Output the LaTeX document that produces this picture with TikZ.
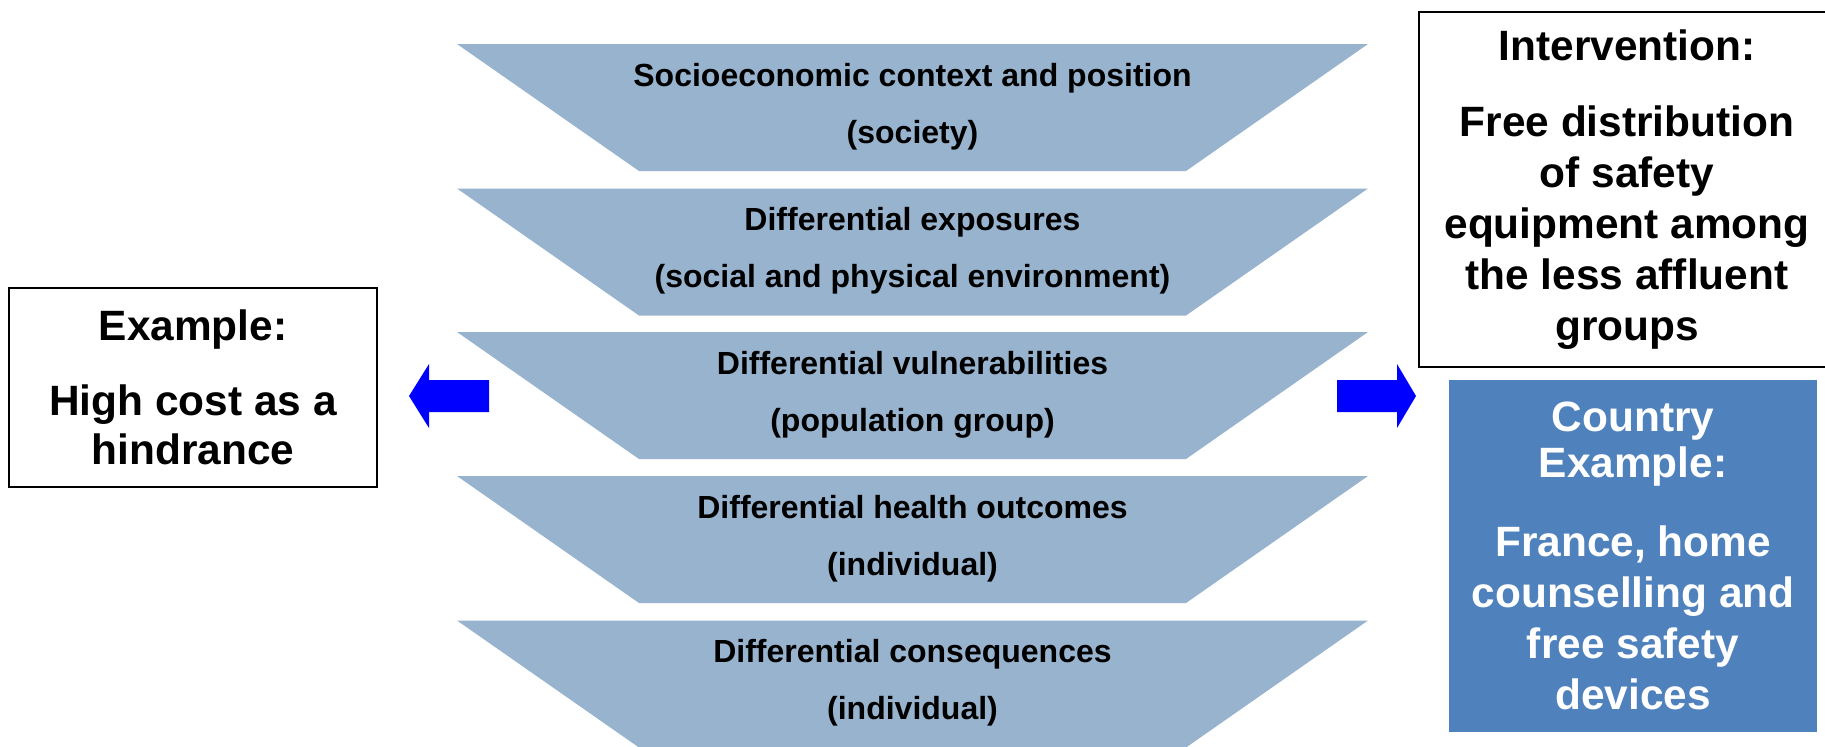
\documentclass[tikz,border=0pt]{standalone}
\usepackage{fontspec}
\setmainfont{Liberation Sans}
\usepackage{xcolor}
\usetikzlibrary{positioning}
\definecolor{tierfill}{HTML}{98B3CE}
\definecolor{casefill}{HTML}{4F81BD}
\definecolor{arrowblue}{HTML}{0000FF}
\tikzset{
  tierText/.style={font=\bfseries\fontsize{16}{28.5}\selectfont, align=center},
  caseBox/.style={draw=black, line width=1pt, fill=white, inner sep=0pt},
  caseText/.style={font=\bfseries\fontsize{21.2}{25.5}\selectfont, align=center},
  sideArrow/.style={fill=arrowblue}
}

\begin{document}
\begin{tikzpicture}[x=0.5pt,y=-0.5pt]
  \useasboundingbox (0,0) rectangle (1825,746);
  \clip (0,0) rectangle (1825,746);
  % stacked tiers
  \foreach \i/\ytop/\tname/\tsub in {
      1/44/{Socioeconomic context and position}/{(society)},
      2/188.5/{Differential exposures}/{(social and physical environment)},
      3/332/{Differential vulnerabilities}/{(population group)},
      4/476/{Differential health outcomes}/{(individual)},
      5/620.5/{Differential consequences}/{(individual)}} {
    \fill[tierfill] (457,\ytop) -- (1368,\ytop) -- (1186,\ytop+127) -- (639,\ytop+127) -- cycle;
    \node[tierText] (tier\i) at (912.5,\ytop+62.5) {\tname\\\tsub};
  }
  % side boxes
  \node[caseBox, caseText, minimum width=184pt, minimum height=99.5pt] (example) at (193,387)
    {Example:\\[12pt]High cost as a\\[-1pt]hindrance};
  \node[caseBox, caseText, minimum width=208pt, minimum height=177.5pt] (intervention) at (1627,189.5)
    {Intervention:\\[12.5pt]Free distribution\\of safety\\equipment among\\the less affluent\\groups};
  \node[caseText, fill=casefill, text=white, inner sep=0pt, minimum width=184pt, minimum height=176pt] (country) at (1633,556)
    {Country\\[-2.2pt]Example:\\[14pt]France, home\\counselling and\\free safety\\devices};
  % arrows
  \fill[sideArrow] (409,396) -- (429,364) -- (429,380) -- (489,380) -- (489,412) -- (429,412) -- (429,428) -- cycle;
  \fill[sideArrow] (1416,396) -- (1397,364) -- (1397,380) -- (1337,380) -- (1337,412) -- (1397,412) -- (1397,428) -- cycle;
\end{tikzpicture}
\end{document}
